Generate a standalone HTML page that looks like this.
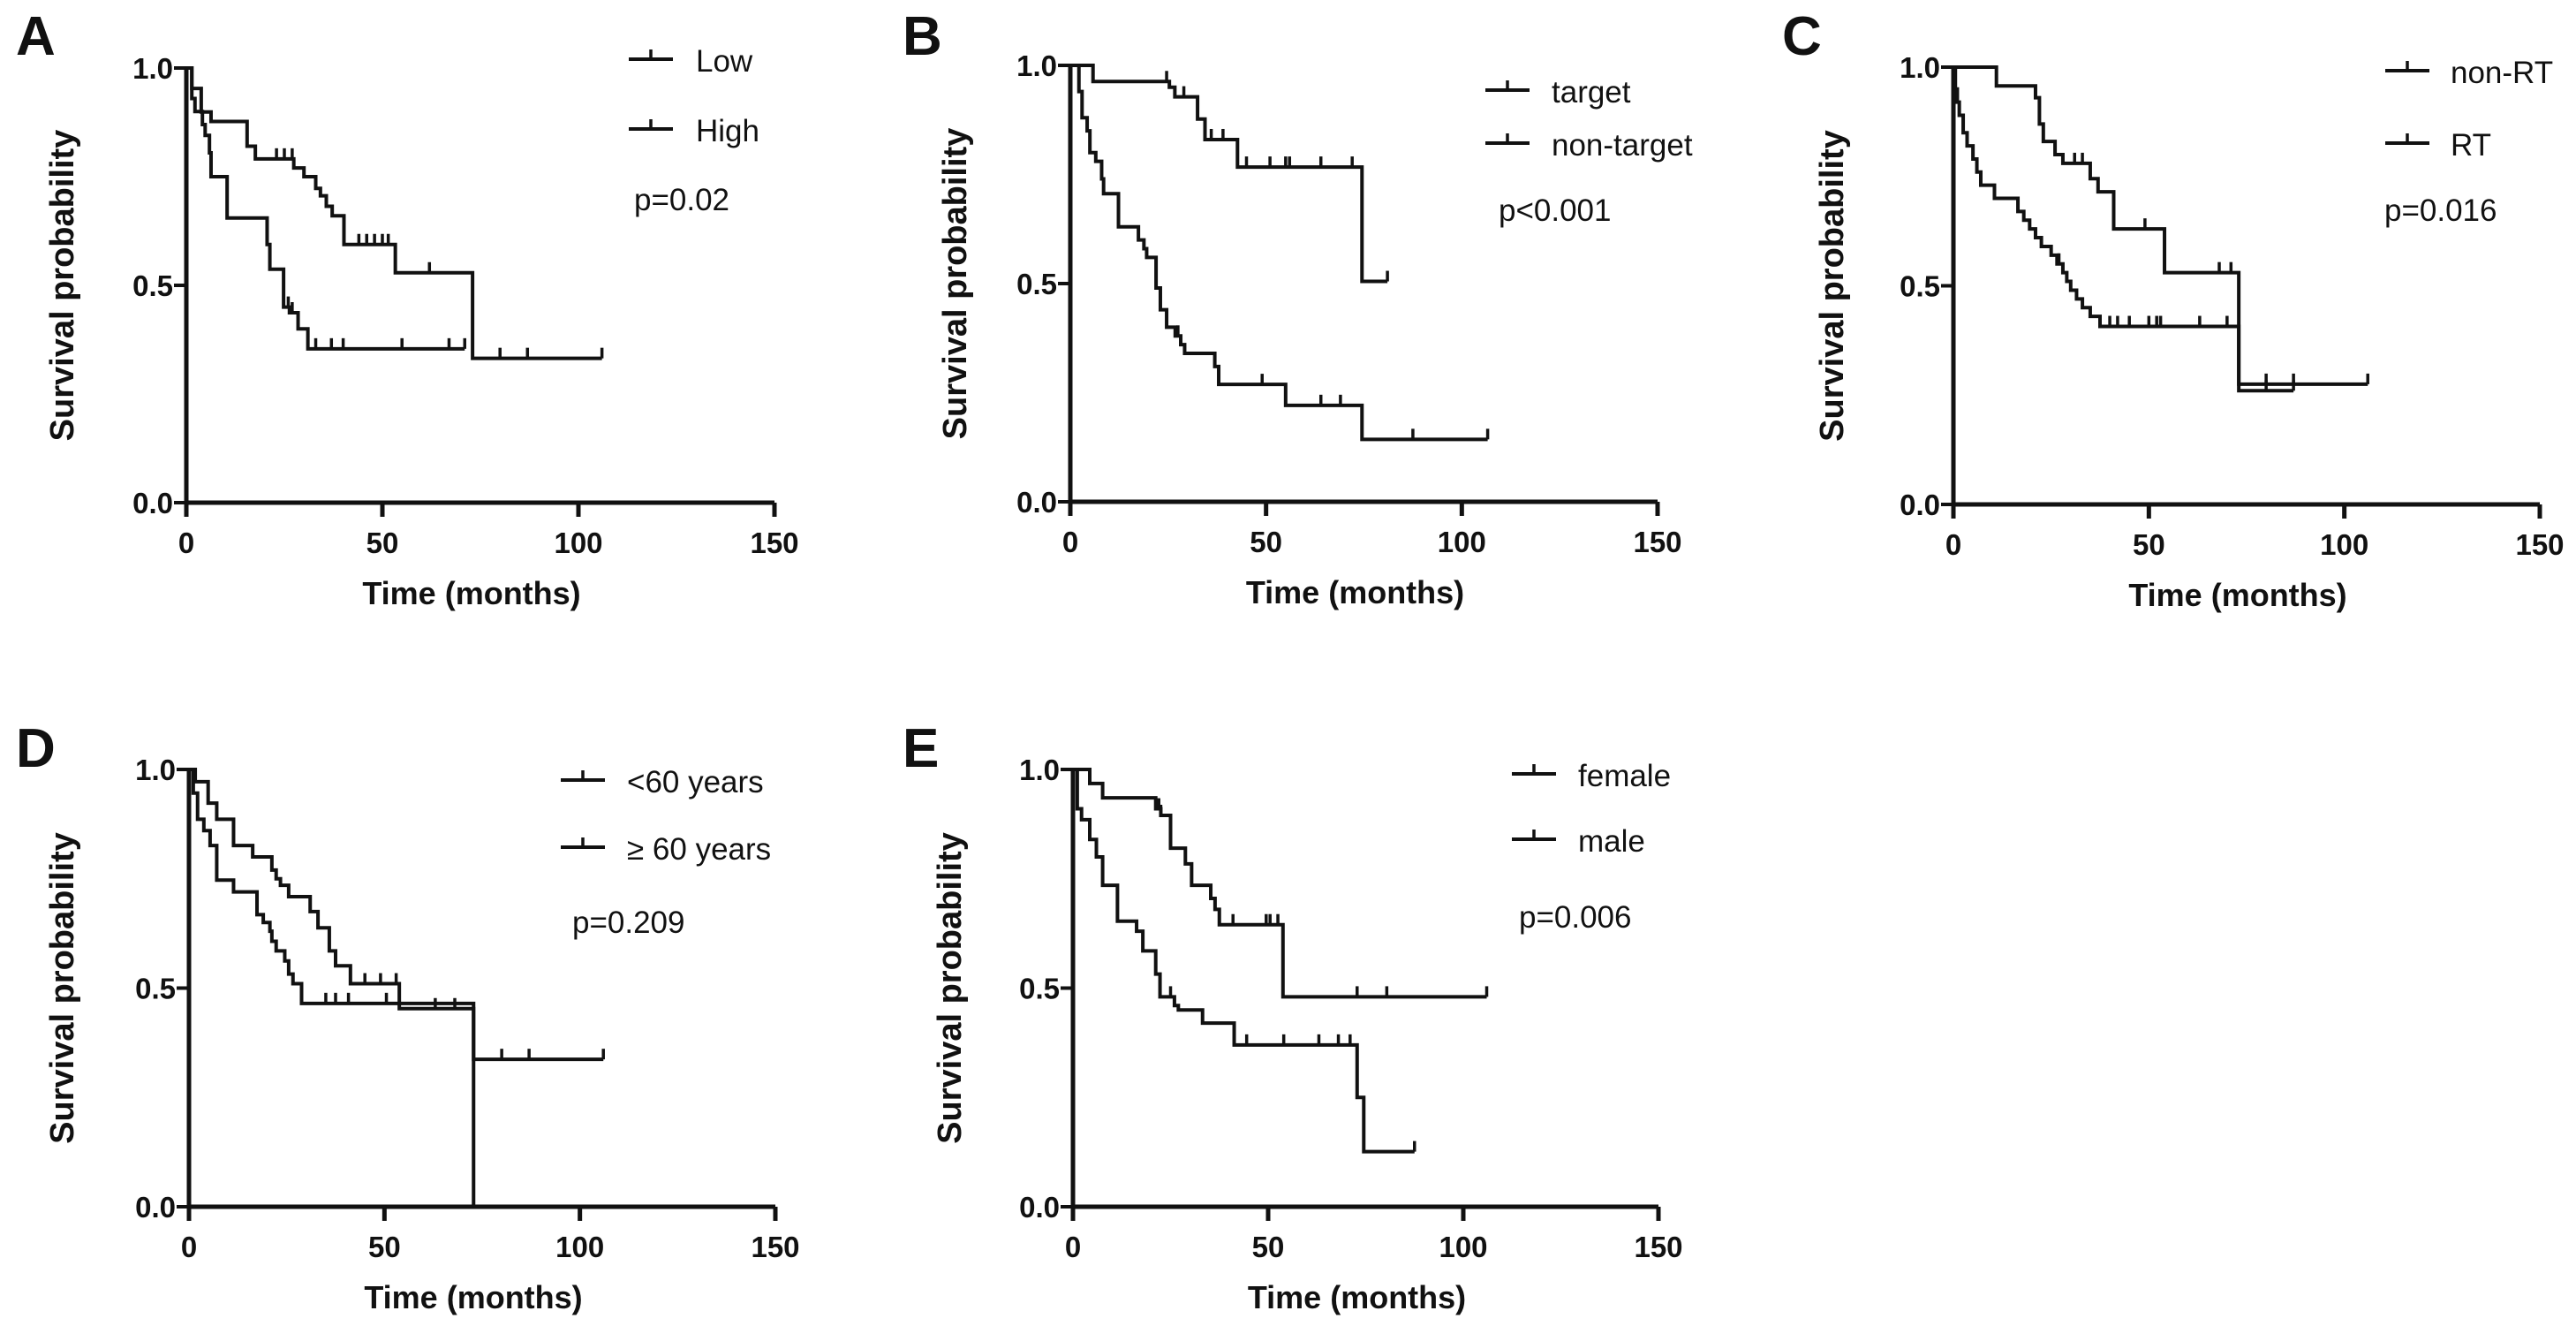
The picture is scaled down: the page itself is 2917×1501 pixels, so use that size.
<!DOCTYPE html>
<html><head><meta charset="utf-8">
<style>
html,body{margin:0;padding:0;background:#fff;}
svg{display:block;}
text{font-family:"Liberation Sans",Arial,sans-serif;fill:#111;}
</style></head>
<body>
<svg id="fig" xmlns="http://www.w3.org/2000/svg" width="2917" height="1501" viewBox="0 0 2917 1501"></svg>
<script>
// ---------- data (months, survival probability) ----------
const xTicks = [0, 50, 100, 150];
const yTicks = [0, 0.5, 1.0];
const yTickLabels = ["0.0", "0.5", "1.0"];

// Panel A
const aLowT = [0,1.4,3.8,6.3,15.5,17.6,27.4,30,33,34.2,35.7,37.2,40.2,53.3,73];
const aLowS = [1,0.953,0.899,0.877,0.82,0.791,0.770,0.750,0.723,0.706,0.682,0.66,0.594,0.529,0.332];
const aLowEnd = 106;
const aLowCens = [23,25,27,44,46,48,50,51.5,62,80,87,106];
const aHighT = [0,1.4,2.2,4.1,4.8,5.9,6.3,10.4,20.6,21.3,24.8,26.3,28.5,31];
const aHighS = [1,0.93,0.90,0.87,0.845,0.805,0.75,0.655,0.594,0.537,0.45,0.437,0.40,0.354];
const aHighEnd = 71;
const aHighCens = [26,27,33,37,40,55,67,71];

// Panel B
const bTarT = [0,5.8,25.3,26.7,32.5,34.4,42.7,74.5];
const bTarS = [1,0.963,0.95,0.928,0.877,0.83,0.767,0.505];
const bTarEnd = 81;
const bTarCens = [24.6,29,36,39,45,51,55,56,64,72,81];
const bNonT = [0,2.2,3,4.3,5,6.5,8,8.5,12.3,17.4,18.8,19.5,21.9,23,24.6,26.8,28.2,29.2,36.9,37.9,55,74.5];
const bNonS = [1,0.94,0.88,0.85,0.80,0.78,0.74,0.706,0.63,0.60,0.58,0.56,0.49,0.44,0.40,0.38,0.36,0.34,0.31,0.269,0.221,0.143];
const bNonEnd = 106.6;
const bNonCens = [27.5,49,64,69,87.5,106.6];

// Panel C
const cNonT = [0,11,21,22,23,26,28,35,37,41,54,73];
const cNonS = [1,0.957,0.93,0.87,0.83,0.80,0.78,0.745,0.715,0.63,0.53,0.275];
const cNonEnd = 106;
const cNonCens = [26,31,33,49,68,71,80,87,106];
const cRtT = [0,0.5,1,1.5,2.5,3.5,5,6,7,10.5,16.5,18,19.5,21,22.5,25,26.5,28,29,30,31.5,33,35,37.5,73];
const cRtS = [1,0.95,0.92,0.89,0.85,0.82,0.79,0.76,0.73,0.70,0.67,0.65,0.63,0.61,0.59,0.57,0.55,0.53,0.51,0.49,0.47,0.45,0.43,0.407,0.26];
const cRtEnd = 87;
const cRtCens = [27,40,42,45,50,52,53,63,70,80,87];

// Panel D
const dYoungT = [0,1.6,4.9,7.1,11.4,16.3,21.2,22.3,23.4,25.5,31,33,35.9,37.5,41.3,53.8,72.8];
const dYoungS = [1,0.972,0.923,0.886,0.826,0.80,0.77,0.75,0.735,0.709,0.675,0.638,0.585,0.551,0.51,0.453,0.337];
const dYoungEnd = 106;
const dYoungCens = [45,49,53,63,68,80,87,106];
const dOldT = [0,1.1,2.2,3.8,5.4,7.1,11.4,17.4,19,20.7,21.2,22.3,24.5,25.5,26.6,28.8,72.8];
const dOldS = [1,0.946,0.886,0.86,0.826,0.747,0.72,0.668,0.65,0.63,0.607,0.585,0.562,0.532,0.51,0.465,0];
const dOldEnd = 72.8;
const dOldCens = [35,37.5,40.8,50.5];

// Panel E
const eFemT = [0,4.3,7.6,21.2,22.5,25,28.8,30.4,35.3,36.4,37.5,53.8];
const eFemS = [1,0.968,0.935,0.91,0.895,0.82,0.784,0.735,0.705,0.68,0.645,0.48];
const eFemEnd = 106;
const eFemCens = [22,22.5,41,49.5,50.5,52.5,72.8,80.4,106];
const eMaleT = [0,1.1,2.2,4.3,6,7.6,11.4,16.3,17.9,21.2,22.3,26,27,33.2,41.3,72.8,74.5];
const eMaleS = [1,0.91,0.885,0.84,0.80,0.735,0.653,0.63,0.585,0.532,0.48,0.46,0.45,0.42,0.37,0.25,0.126];
const eMaleEnd = 87.5;
const eMaleCens = [25,44.5,54,63,68,71,87.5];

// ---------- layout (geometry only) ----------
const panels = [
  {id:"a", letter:"A", x0:211, x1:877, yTop:77, yBot:569, lx:18, ly:62, tx:70,
   leg:{lx:712, ly:67, gap:79, tx:788, px:718, py:238}, p:"p=0.02",
   series:[{name:"Low",t:aLowT,s:aLowS,end:aLowEnd,c:aLowCens},{name:"High",t:aHighT,s:aHighS,end:aHighEnd,c:aHighCens}]},
  {id:"b", letter:"B", x0:1212, x1:1877, yTop:74, yBot:568, lx:1022, ly:62, tx:1081,
   leg:{lx:1682, ly:102, gap:60, tx:1757, px:1697, py:250}, p:"p<0.001",
   series:[{name:"target",t:bTarT,s:bTarS,end:bTarEnd,c:bTarCens},{name:"non-target",t:bNonT,s:bNonS,end:bNonEnd,c:bNonCens}]},
  {id:"c", letter:"C", x0:2212, x1:2876, yTop:76, yBot:571, lx:2018, ly:62, tx:2074,
   leg:{lx:2701, ly:80, gap:82, tx:2775, px:2700, py:250}, p:"p=0.016",
   series:[{name:"non-RT",t:cNonT,s:cNonS,end:cNonEnd,c:cNonCens},{name:"RT",t:cRtT,s:cRtS,end:cRtEnd,c:cRtCens}]},
  {id:"d", letter:"D", x0:214, x1:878, yTop:871, yBot:1366, lx:18, ly:868, tx:70,
   leg:{lx:635, ly:883, gap:76, tx:710, px:648, py:1056}, p:"p=0.209",
   series:[{name:"<60 years",t:dYoungT,s:dYoungS,end:dYoungEnd,c:dYoungCens},{name:"\u2265 60 years",t:dOldT,s:dOldS,end:dOldEnd,c:dOldCens}]},
  {id:"e", letter:"E", x0:1215, x1:1878, yTop:871, yBot:1366, lx:1022, ly:868, tx:1075,
   leg:{lx:1712, ly:876, gap:74, tx:1787, px:1720, py:1050}, p:"p=0.006",
   series:[{name:"female",t:eFemT,s:eFemS,end:eFemEnd,c:eFemCens},{name:"male",t:eMaleT,s:eMaleS,end:eMaleEnd,c:eMaleCens}]}
];

const NS = "http://www.w3.org/2000/svg";
const svg = document.getElementById("fig");
function mk(tag, attrs, parent) {
  const e = document.createElementNS(NS, tag);
  for (const k in attrs) e.setAttribute(k, attrs[k]);
  (parent || svg).appendChild(e);
  return e;
}
function valueAt(t, s, x) {
  let v = s[0];
  for (let i = 0; i < t.length; i++) { if (t[i] <= x) v = s[i]; }
  return v;
}

panels.forEach(function(P) {
  const xs = function(m) { return P.x0 + (m / 150) * (P.x1 - P.x0); };
  const ys = function(v) { return P.yBot - v * (P.yBot - P.yTop); };
  const g = mk("g", {});
  
  

  const L = mk("text", {x:P.lx, y:P.ly, "font-size":62, "font-weight":"bold"}, g);
  L.textContent = P.letter;
  
  

  const ax = mk("path", {d:"M"+P.x0+","+(P.yTop-2)+" L"+P.x0+","+P.yBot+" L"+P.x1+","+P.yBot, stroke:"#111", "stroke-width":5, fill:"none"}, g);
  
  

  xTicks.forEach(function(v) {
    const x = xs(v);
    const tk = mk("line", {x1:x, y1:P.yBot, x2:x, y2:P.yBot+16, stroke:"#111", "stroke-width":5}, g);
    
    
    const tl = mk("text", {x:x, y:P.yBot+57, "font-size":33, "font-weight":"bold", "text-anchor":"middle"}, g);
    tl.textContent = String(v);
    
    
  });
  yTicks.forEach(function(v, i) {
    const y = ys(v);
    const tk = mk("line", {x1:P.x0-14, y1:y, x2:P.x0, y2:y, stroke:"#111", "stroke-width":4}, g);
    
    
    const tl = mk("text", {x:P.x0-15, y:y+12, "font-size":33, "font-weight":"bold", "text-anchor":"end"}, g);
    tl.textContent = yTickLabels[i];
    
    
  });

  const xt = mk("text", {x:(P.x0+P.x1)/2 - 10, y:P.yBot+115, "font-size":36, "font-weight":"bold", "text-anchor":"middle"}, g);
  xt.textContent = "Time (months)";
  
  

  const cy = (P.yTop + P.yBot) / 2;
  const yt = mk("text", {x:P.tx+13, y:cy, "font-size":38, "font-weight":"bold", "text-anchor":"middle", transform:"rotate(-90 "+(P.tx+13)+" "+cy+")"}, g);
  yt.textContent = "Survival probability";
  
  

  P.series.forEach(function(S, si) {
    let d = "M" + xs(0) + "," + ys(S.s[0]);
    for (let i = 1; i < S.t.length; i++) {
      d += " L" + xs(S.t[i]) + "," + ys(S.s[i-1]) + " L" + xs(S.t[i]) + "," + ys(S.s[i]);
    }
    d += " L" + xs(S.end) + "," + ys(S.s[S.s.length-1]);
    const path = mk("path", {d:d, stroke:"#111", "stroke-width":4, fill:"none", "stroke-linejoin":"miter"}, g);
    
    
    S.c.forEach(function(cm) {
      const v = valueAt(S.t, S.s, cm);
      const cx = xs(cm), yy = ys(v);
      const ct = mk("line", {x1:cx, y1:yy, x2:cx, y2:yy-12, stroke:"#111", "stroke-width":3.5}, g);
      
      
    });

    const ly = P.leg.ly + si * P.leg.gap;
    const lg = mk("g", {}, g);
    
    
    mk("line", {x1:P.leg.lx, y1:ly, x2:P.leg.lx+50, y2:ly, stroke:"#111", "stroke-width":4}, lg);
    mk("line", {x1:P.leg.lx+25, y1:ly, x2:P.leg.lx+25, y2:ly-11, stroke:"#111", "stroke-width":3.5}, lg);
    const lt = mk("text", {x:P.leg.tx, y:ly+14, "font-size":35}, lg);
    lt.textContent = S.name;
  });

  const pt = mk("text", {x:P.leg.px, y:P.leg.py, "font-size":35}, g);
  pt.textContent = P.p;
  
  
});
</script>
</body></html>
